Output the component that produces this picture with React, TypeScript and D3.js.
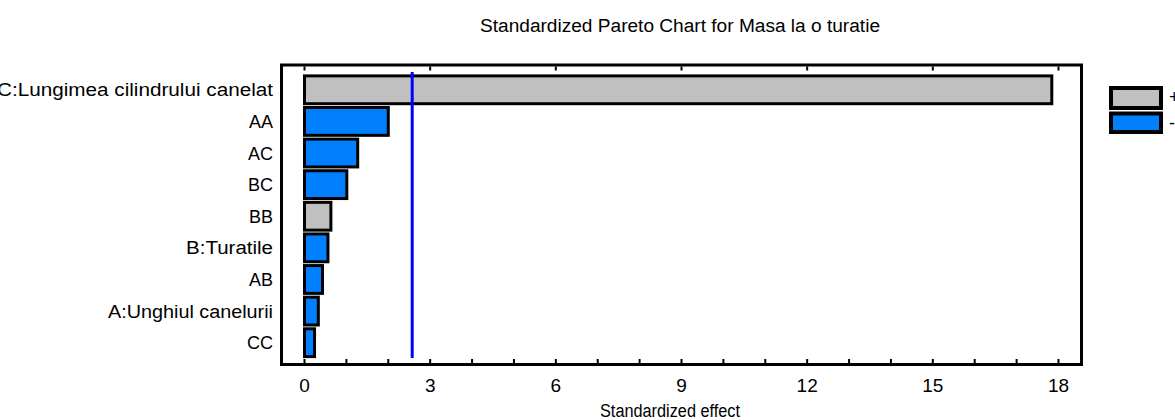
import * as d3 from 'd3';
import React from 'react';

// --- data ---
const factors = [
  'C:Lungimea cilindrului canelat',
  'AA',
  'AC',
  'BC',
  'BB',
  'B:Turatile',
  'AB',
  'A:Unghiul canelurii',
  'CC',
];
const effects = [17.84, 2.0, 1.27, 1.01, 0.63, 0.56, 0.43, 0.33, 0.24];
const signs = ['+', '-', '-', '-', '+', '-', '-', '-', '-'];
const xTicks = [0, 3, 6, 9, 12, 15, 18];
const criticalValue = 2.571;
const legendLabels = ['+', '-'];

const title = 'Standardized Pareto Chart for Masa la o turatie';
const xTitle = 'Standardized effect';

// label widths forced to match the stretched lettering of the original
const labelLengths: Record<string, number> = {
  'C:Lungimea cilindrului canelat': 276,
  'B:Turatile': 87,
  'A:Unghiul canelurii': 165,
};

const width = 1175;
const height = 420;
const frame = { left: 281.5, right: 1081.5, top: 65, bottom: 364.5 };
const font = '"Liberation Sans", Arial, sans-serif';
const colorFor = (s: string) => (s === '+' ? '#c0c0c0' : '#0080ff');

export default function App() {
  const x = d3.scaleLinear().domain([0, 18]).range([304.5, 1058.5]);
  const y = d3
    .scaleBand<string>()
    .domain(factors)
    .range([74, 358.5])
    .paddingInner(0.12)
    .paddingOuter(0.06);

  const minorTicks = d3.range(0, 19, 1);
  const rows = factors.map((f, i) => ({ f, v: effects[i], s: signs[i] }));

  return (
    <svg
      width={width}
      height={height}
      style={{ position: 'absolute', left: 0, top: 0, background: '#fff' }}
      fontFamily={font}
    >
      {/* title */}
      <text x={680} y={32} textAnchor="middle" fontSize={18} textLength={400} lengthAdjust="spacingAndGlyphs">
        {title}
      </text>

      {/* frame */}
      <rect
        x={frame.left}
        y={frame.top}
        width={frame.right - frame.left}
        height={frame.bottom - frame.top}
        fill="none"
        stroke="#000"
        strokeWidth={3}
      />

      {/* bottom minor ticks */}
      {minorTicks.map((t) => (
        <line key={'b' + t} x1={x(t)} x2={x(t)} y1={frame.bottom - 1.5} y2={frame.bottom - 5.5} stroke="#000" strokeWidth={2} />
      ))}
      {/* top major ticks */}
      {xTicks.map((t) => (
        <line key={'t' + t} x1={x(t)} x2={x(t)} y1={frame.top + 1.5} y2={frame.top + 5.5} stroke="#000" strokeWidth={2} />
      ))}

      {/* tick labels */}
      {xTicks.map((t) => (
        <text key={'l' + t} x={x(t)} y={392} textAnchor="middle" fontSize={19}>
          {t}
        </text>
      ))}
      <text x={670} y={417} textAnchor="middle" fontSize={18} textLength={140} lengthAdjust="spacingAndGlyphs">
        {xTitle}
      </text>

      {/* bars */}
      {rows.map((d) => (
        <rect
          key={d.f}
          x={x(0)}
          y={y(d.f)!}
          width={x(d.v) - x(0)}
          height={y.bandwidth()}
          fill={colorFor(d.s)}
          stroke="#000"
          strokeWidth={3}
        />
      ))}

      {/* category labels */}
      {rows.map((d) => (
        <text
          key={'c' + d.f}
          x={273}
          y={y(d.f)! + y.bandwidth() / 2 + 6.5}
          textAnchor="end"
          fontSize={18}
          textLength={labelLengths[d.f]}
          lengthAdjust={labelLengths[d.f] ? 'spacingAndGlyphs' : undefined}
        >
          {d.f}
        </text>
      ))}

      {/* critical value line */}
      <line x1={x(criticalValue)} x2={x(criticalValue)} y1={72} y2={358} stroke="#0000ff" strokeWidth={3} />

      {/* legend */}
      {legendLabels.map((l, i) => (
        <g key={'lg' + l} transform={`translate(1111,${88 + i * 25.5})`}>
          <rect width={50} height={i === 0 ? 20 : 18.5} fill={colorFor(l)} stroke="#000" strokeWidth={4} />
          <text x={58} y={15} fontSize={18}>
            {l}
          </text>
        </g>
      ))}
    </svg>
  );
}
